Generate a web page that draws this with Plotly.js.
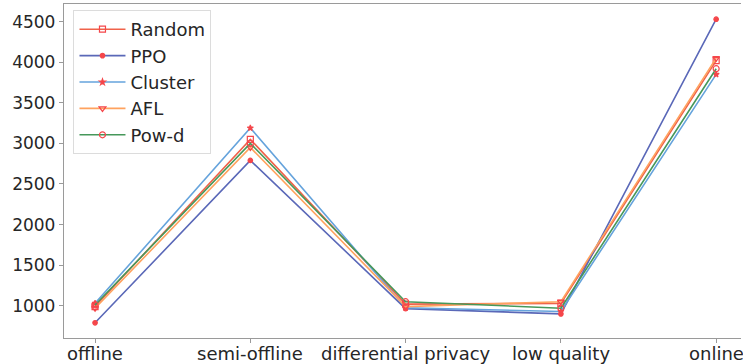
<!DOCTYPE html>
<html><head><meta charset="utf-8">
<script src="https://cdn.plot.ly/plotly-3.0.1.min.js"></script>
<style>html,body{margin:0;padding:0;background:#fff}#chart{width:743px;height:364px}</style>
</head><body><div id="chart"></div>
<script>
const categories = ["offline", "semi-offline", "differential privacy", "low quality", "online"];
const seriesNames = ["Random", "PPO", "Cluster", "AFL", "Pow-d"];
const randomVals = [990, 3050, 1020, 1030, 4020];
const ppoVals = [790, 2790, 965, 900, 4530];
const clusterVals = [1030, 3190, 975, 930, 3850];
const aflVals = [970, 2950, 990, 1050, 4050];
const powdVals = [1010, 3000, 1050, 970, 3920];
const yTicks = [1000, 1500, 2000, 2500, 3000, 3500, 4000, 4500];

const values = [randomVals, ppoVals, clusterVals, aflVals, powdVals];
const lineColors = ["#f0624a", "#5a68b8", "#65a3dc", "#ffa25e", "#46985a"];
const symbols = ["square-open", "circle", "star", "triangle-down-open", "circle-open"];
const sizes = [6, 4.5, 4.5, 6, 6];
const markerRed = "#f5464a";

const traces = seriesNames.map((n, i) => ({
  x: categories, y: values[i], name: n, type: "scatter", mode: "lines+markers",
  legendgroup: "g" + i,
  line: {color: lineColors[i], width: 1.6},
  marker: {symbol: symbols[i], size: sizes[i], color: markerRed, line: {color: markerRed, width: 1.2}}
}));

const annotations = categories.map(c => ({
  x: c, y: 0, xref: "x", yref: "paper", yanchor: "top", yshift: -3,
  text: c, showarrow: false, font: {family: "DejaVu Sans, sans-serif", size: 18, color: "#262626"}
}));

const font = {family: "DejaVu Sans, sans-serif", size: 17, color: "#262626"};
const layout = {
  width: 743, height: 364,
  margin: {l: 64, r: 2, t: 4, b: 26},
  paper_bgcolor: "#fff", plot_bgcolor: "#fff",
  font: font,
  showlegend: true,
  annotations: annotations,
  legend: {x: 0.014, y: 0.982, xanchor: "left", yanchor: "top", bgcolor: "#fff",
           bordercolor: "#dcdcdc", borderwidth: 1, itemwidth: 46,
           font: {family: "DejaVu Sans, sans-serif", size: 18, color: "#262626"},
           tracegroupgap: 0},
  xaxis: {type: "category", range: [-0.2, 4.16], showgrid: false, zeroline: false,
          showline: true, linecolor: "#9a9a9a", linewidth: 1.2, mirror: true,
          ticks: "outside", ticklen: 4, tickcolor: "#9a9a9a", showticklabels: false},
  yaxis: {range: [603, 4717], tickvals: yTicks, showgrid: false, zeroline: false,
          showline: true, linecolor: "#9a9a9a", linewidth: 1.2,
          ticks: "outside", ticklen: 4, tickcolor: "#9a9a9a", tickfont: {size: 17}}
};
Plotly.newPlot("chart", traces, layout, {staticPlot: true, displayModeBar: false});
</script></body></html>
